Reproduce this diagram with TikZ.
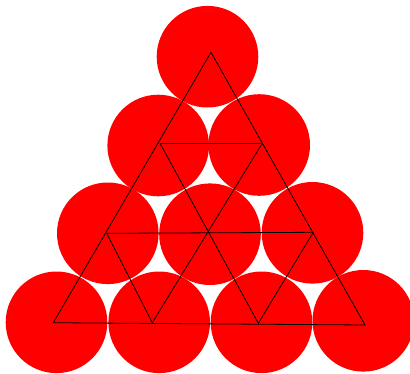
\documentclass[tikz,border=0pt]{standalone}
\begin{document}
\begin{tikzpicture}[x=1pt,y=-1pt,
  ball/.style={circle,fill=red,draw=none,minimum size=101.6pt,inner sep=0pt},
  grid/.style={black,line width=0.8pt,line join=miter}]
\useasboundingbox (0,0) rectangle (410,373);
\clip (0,0) rectangle (410,373);
% balls
\node[ball] (b1) at (207.5,56.7) {};
\node[ball] (b2) at (158.2,145.5) {};
\node[ball] (b3) at (259.2,145) {};
\node[ball] (b4) at (107.8,233.3) {};
\node[ball] (b5) at (210,234.2) {};
\node[ball] (b6) at (312.5,232.8) {};
\node[ball] (b7) at (56.5,322.3) {};
\node[ball] (b8) at (159.2,322.3) {};
\node[ball] (b9) at (261.5,322.3) {};
\node[ball] (b10) at (363.3,320.8) {};
% grid vertices
\coordinate (v1) at (211,52.3);
\coordinate (v2) at (160,143.3);
\coordinate (v3) at (262.3,143.3);
\coordinate (v4) at (106.7,233.3);
\coordinate (v5) at (209,232.5);
\coordinate (v6) at (313.3,232.3);
\coordinate (v7) at (53.3,322.7);
\coordinate (v8) at (152.3,322.7);
\coordinate (v9) at (258.3,323.3);
\coordinate (v10) at (365,325);
% grid lines
\draw[grid] (v1) -- (v7) -- (v10) -- cycle;
\draw[grid] (v2) -- (v3);
\draw[grid] (v4) -- (v6);
\draw[grid] (v2) -- (v9);
\draw[grid] (v3) -- (v8);
\draw[grid] (v4) -- (v8);
\draw[grid] (v6) -- (v9);
\end{tikzpicture}
\end{document}
